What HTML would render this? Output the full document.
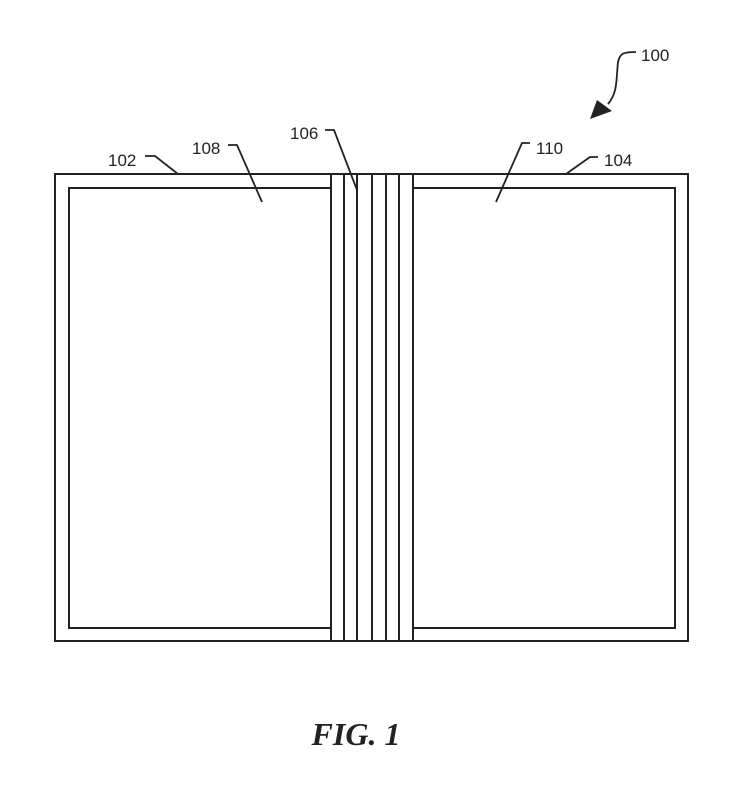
<!DOCTYPE html>
<html><head><style>html,body{margin:0;padding:0;background:#fff}</style></head>
<body>
<svg width="741" height="792" xmlns="http://www.w3.org/2000/svg">
<g fill="none" stroke="#222" stroke-width="2">
<rect x="55" y="174" width="633" height="467"/>
<rect x="69" y="188" width="262" height="440"/>
<rect x="413" y="188" width="262" height="440"/>
<line x1="331" y1="174" x2="331" y2="641"/>
<line x1="344" y1="174" x2="344" y2="641"/>
<line x1="357" y1="174" x2="357" y2="641"/>
<line x1="372" y1="174" x2="372" y2="641"/>
<line x1="386" y1="174" x2="386" y2="641"/>
<line x1="399" y1="174" x2="399" y2="641"/>
<line x1="413" y1="174" x2="413" y2="641"/>
<g stroke-width="1.8">
<polyline points="145,156 155,156 178,174"/>
<polyline points="228,145 237,145 262,202"/>
<polyline points="325,130 334,130 357,190"/>
<polyline points="530,143 522,143 496,202"/>
<polyline points="598,157 590,157 566,174"/>
<path d="M636,52 C622,52 620,54 618,62 C616,80 618,92 608,104"/>
</g>
</g>
<polygon points="590,119 597,100 612,111" fill="#222"/>
<g font-family="Liberation Sans, sans-serif" font-size="17" fill="#222">
<text x="108" y="166">102</text>
<text x="192" y="154">108</text>
<text x="290" y="139">106</text>
<text x="536" y="154">110</text>
<text x="604" y="166">104</text>
<text x="641" y="61">100</text>
</g>
<text x="356" y="745" font-family="Liberation Serif, serif" font-size="32" font-style="italic" font-weight="bold" fill="#222" text-anchor="middle">FIG. 1</text>
</svg>
</body></html>
